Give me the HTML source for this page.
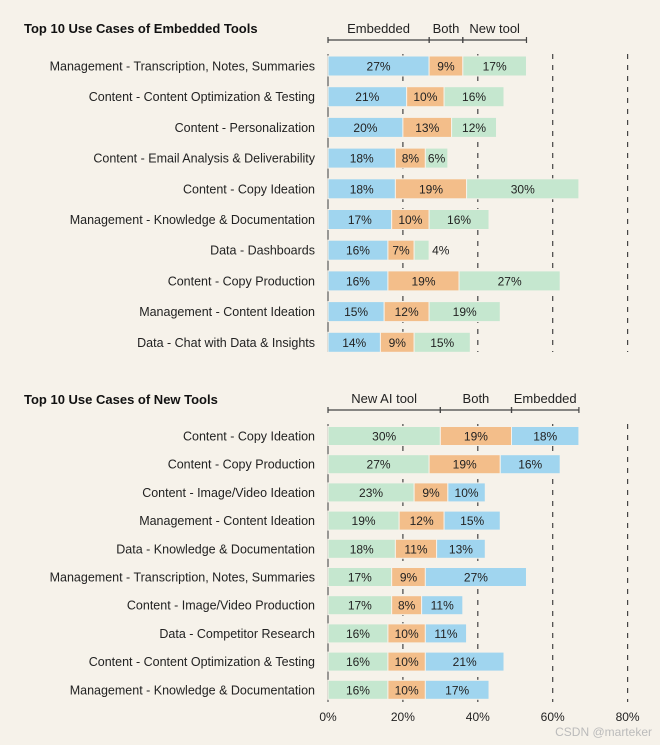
<!DOCTYPE html>
<html><head><meta charset="utf-8"><style>
body{margin:0;background:#f6f2ea;}
svg{display:block;font-family:"Liberation Sans",sans-serif;}
</style></head><body>
<svg id="c" width="660" height="745" viewBox="0 0 660 745"></svg>
<script>
const topCats=["Management - Transcription, Notes, Summaries","Content - Content Optimization & Testing","Content - Personalization","Content - Email Analysis & Deliverability","Content - Copy Ideation","Management - Knowledge & Documentation","Data - Dashboards","Content - Copy Production","Management - Content Ideation","Data - Chat with Data & Insights"];
const topEmbedded=[27,21,20,18,18,17,16,16,15,14];
const topBoth=[9,10,13,8,19,10,7,19,12,9];
const topNew=[17,16,12,6,30,16,4,27,19,15];
const botCats=["Content - Copy Ideation","Content - Copy Production","Content - Image/Video Ideation","Management - Content Ideation","Data - Knowledge & Documentation","Management - Transcription, Notes, Summaries","Content - Image/Video Production","Data - Competitor Research","Content - Content Optimization & Testing","Management - Knowledge & Documentation"];
const botNew=[30,27,23,19,18,17,17,16,16,16];
const botBoth=[19,19,9,12,11,9,8,10,10,10];
const botEmbedded=[18,16,10,15,13,27,11,11,21,17];
const ticks=[0,20,40,60,80];

const NS="http://www.w3.org/2000/svg";
const svg=document.getElementById('c');
const X0=328, K=3.745;
const x=v=>X0+v*K;
const BLUE="#a0d5ef", ORANGE="#f3be8a", GREEN="#c5e7cf", TXT="#222";
function el(t,a,p){const e=document.createElementNS(NS,t);for(const k in a)e.setAttribute(k,a[k]);(p||svg).appendChild(e);return e;}
function txt(s,a){const e=el('text',a);e.textContent=s;return e;}

function panel(title,cats,series,colors,headers,y0,step,bh,yTop,yBot,hdrY,titleY){
  const t=txt(title,{x:24,y:titleY,'font-size':13,'font-weight':'bold',fill:'#111'});
  
  
  ticks.slice(1).forEach(tk=>{
    const l=el('line',{x1:x(tk),x2:x(tk),y1:yTop,y2:yBot,stroke:'#444','stroke-width':1.2,'stroke-dasharray':'5,6'});
    
    
  });
  const ax=el('line',{x1:X0,x2:X0,y1:yTop,y2:yBot,stroke:'#666','stroke-width':1.3});
  
  
  let acc=0;
  headers.forEach((h,i)=>{
    const a=acc,b=acc+series[i][0];acc=b;
    const g=el('g',{});
    
    
    el('line',{x1:x(a),x2:x(b),y1:hdrY,y2:hdrY,stroke:'#444','stroke-width':1.2},g);
    el('line',{x1:x(a),x2:x(a),y1:hdrY-3,y2:hdrY+3,stroke:'#444','stroke-width':1.2},g);
    el('line',{x1:x(b),x2:x(b),y1:hdrY-3,y2:hdrY+3,stroke:'#444','stroke-width':1.2},g);
    const tt=document.createElementNS(NS,'text');
    tt.setAttribute('x',(x(a)+x(b))/2);tt.setAttribute('y',hdrY-7);tt.setAttribute('font-size',13);
    tt.setAttribute('text-anchor','middle');tt.setAttribute('fill',TXT);tt.textContent=h;g.appendChild(tt);
  });
  cats.forEach((c,r)=>{
    const cy=y0+r*step;
    const lb=txt(c,{x:315,y:cy+4.5,'font-size':12.5,'text-anchor':'end',fill:TXT});
    
    
    let acc=0;
    series.forEach((s,i)=>{
      const v=s[r];
      const rc=el('rect',{x:x(acc),y:cy-bh/2,width:v*K,height:bh,fill:colors[i],stroke:'#f6f2ea','stroke-width':1});
      
      
      const outside=v<5;
      const vl=txt(v+'%',{x:outside?x(acc+v)+3:x(acc)+v*K/2,y:cy+4.5,'font-size':12,'text-anchor':outside?'start':'middle',fill:TXT});
      
      
      acc+=v;
    });
  });
}
panel("Top 10 Use Cases of Embedded Tools",topCats,[topEmbedded,topBoth,topNew],[BLUE,ORANGE,GREEN],["Embedded","Both","New tool"],66,30.7,20,54,352,40,33);
panel("Top 10 Use Cases of New Tools",botCats,[botNew,botBoth,botEmbedded],[GREEN,ORANGE,BLUE],["New AI tool","Both","Embedded"],436,28.2,19,424,702,410,404);
ticks.forEach(tk=>{
  const t=txt(tk+'%',{x:x(tk),y:721,'font-size':12,'text-anchor':'middle',fill:TXT});
  
  
});
const wm=txt('CSDN @marteker',{x:652,y:736,'font-size':12,'text-anchor':'end',fill:'#bbb'});


</script>
</body></html>
